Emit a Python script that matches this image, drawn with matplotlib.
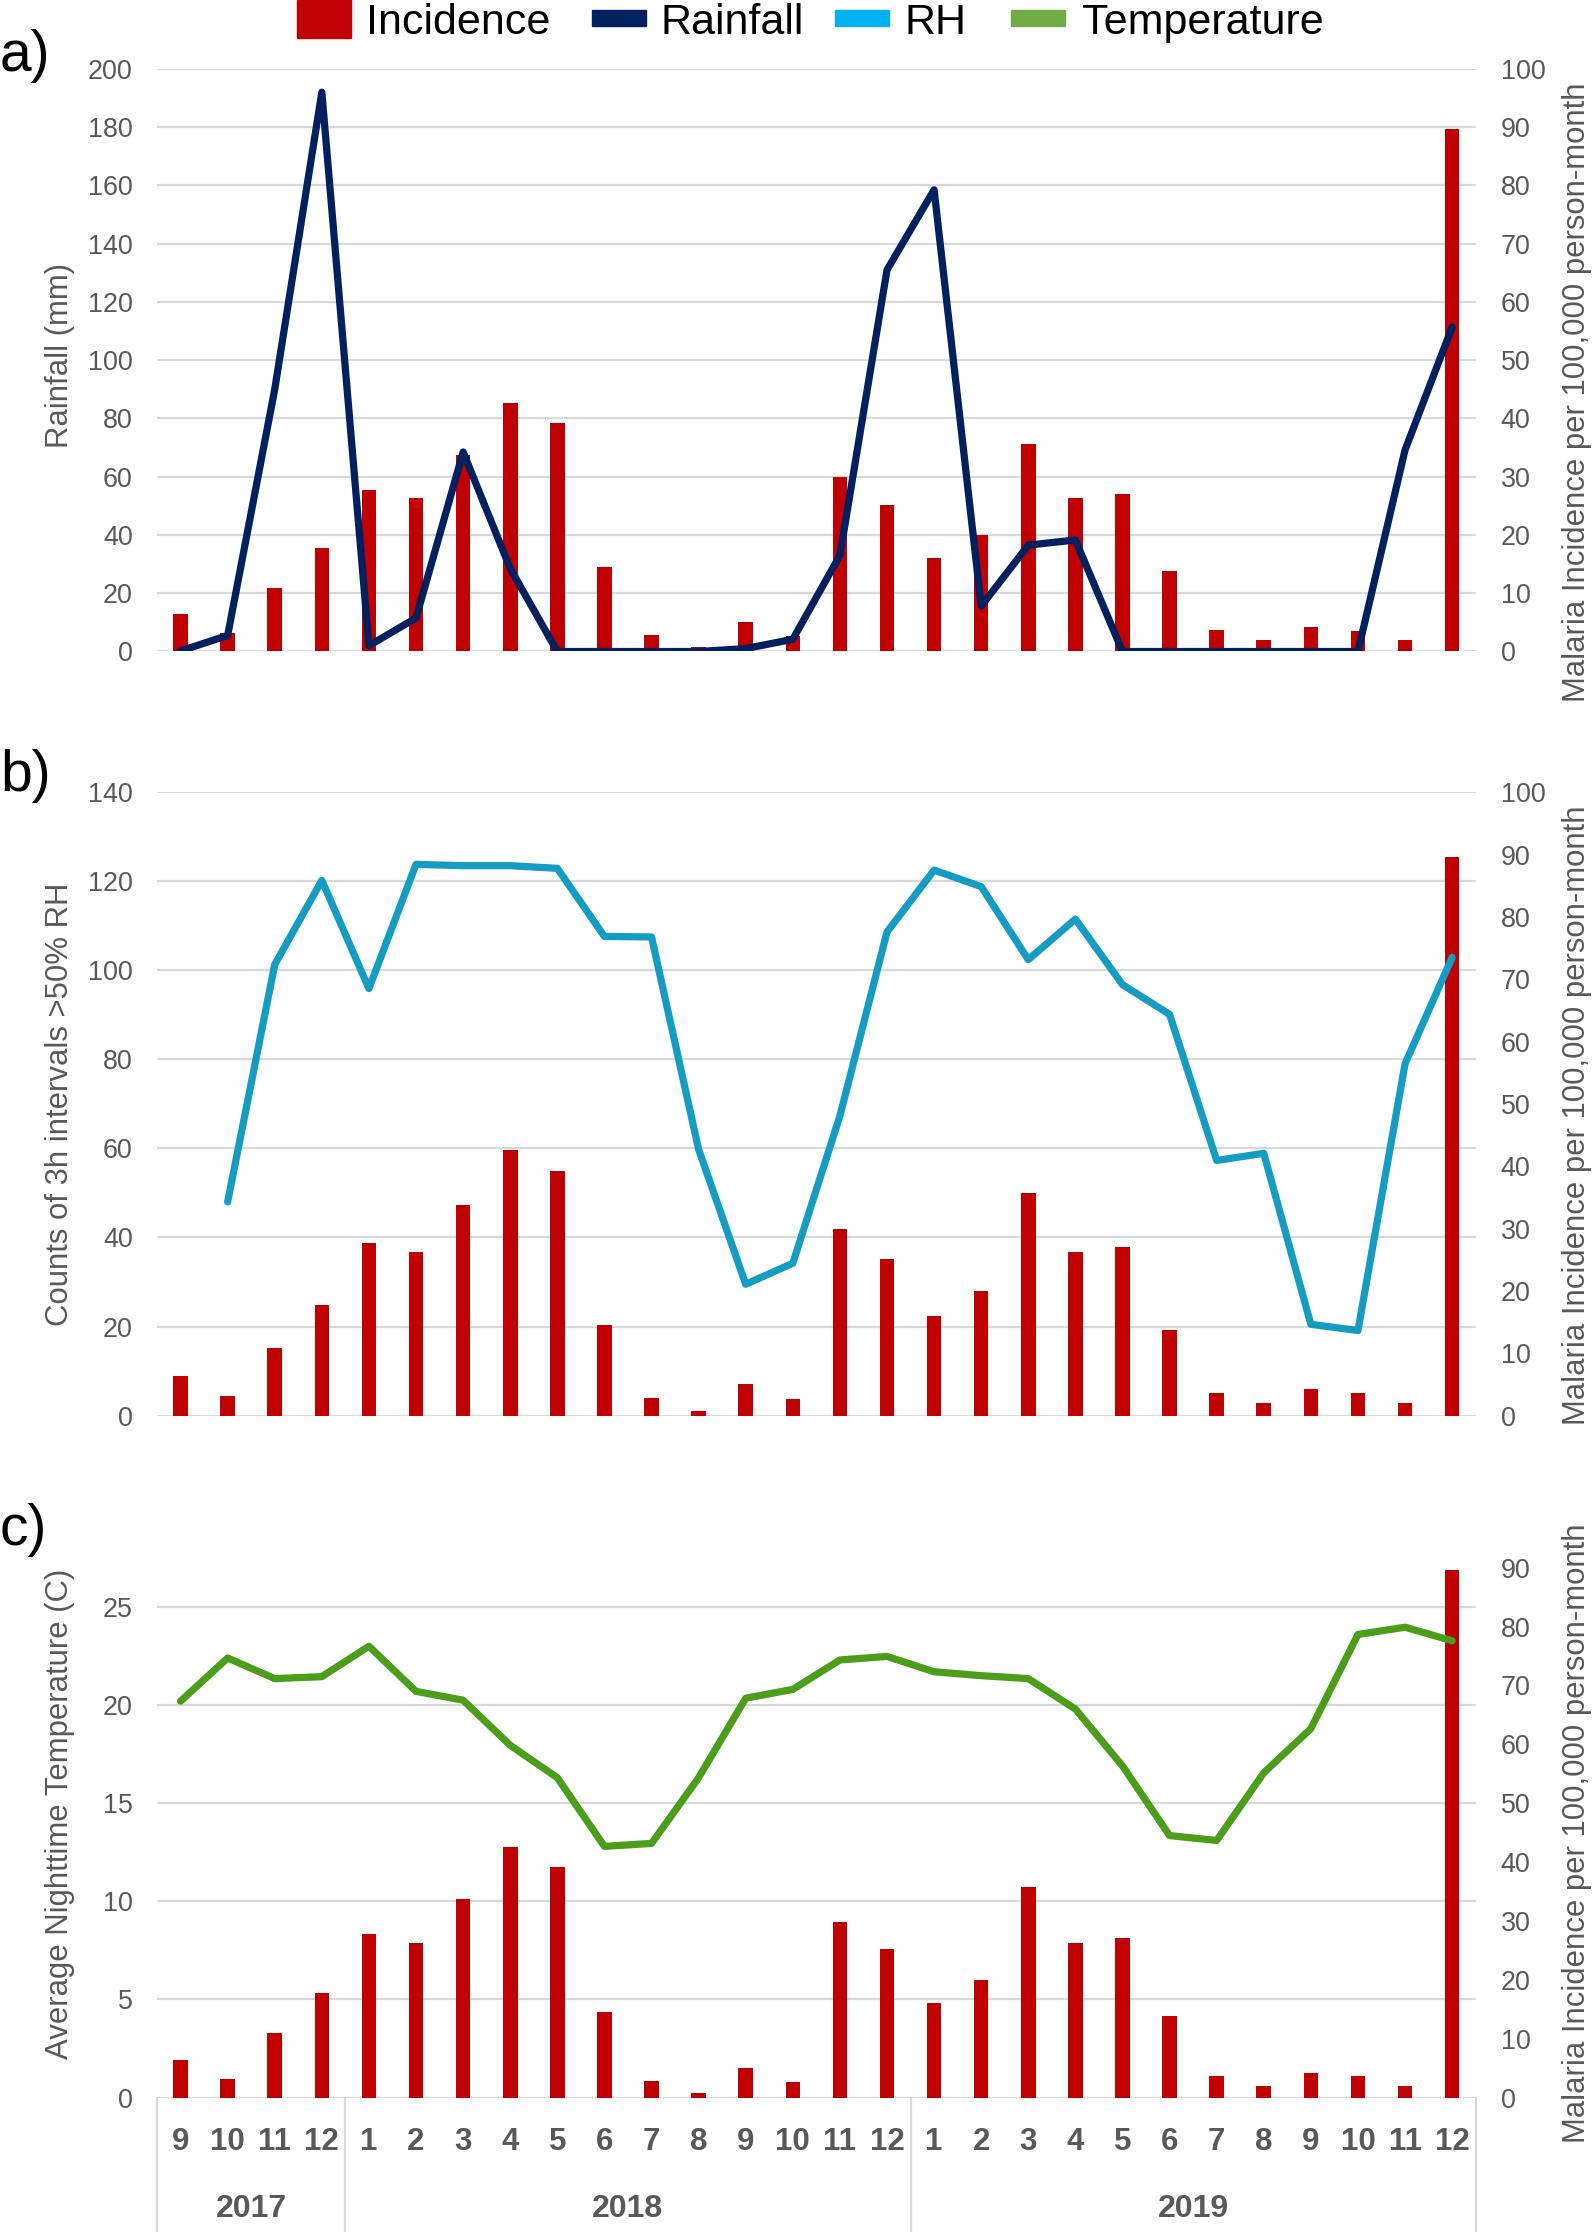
import matplotlib.pyplot as plt
import numpy as np
from matplotlib.patches import Rectangle

W, H = 1593, 2232
DPI = 100

month_labels = ["9", "10", "11", "12",
                "1", "2", "3", "4", "5", "6", "7", "8", "9", "10", "11", "12",
                "1", "2", "3", "4", "5", "6", "7", "8", "9", "10", "11", "12"]
year_labels = ["2017", "2018", "2019"]
year_first = [0, 4, 16]
year_last = [3, 15, 27]

# malaria incidence per 100,000 person-month (right axis, all panels)
incidence = [6.4, 3.1, 10.9, 17.7, 27.7, 26.3, 33.8, 42.6, 39.2, 14.5, 2.8, 0.8,
             5.0, 2.7, 29.9, 25.2, 16.0, 20.0, 35.7, 26.3, 27.1, 13.8, 3.7, 2.0,
             4.2, 3.6, 2.0, 89.6]
rainfall = [0.2, 5.5, 90, 192, 2.0, 11.5, 68.5, 28.5, 0, 0, 0, 0,
            1.0, 4.2, 33, 131, 158.5, 15.6, 36.5, 38.3, 0, 0, 0, 0,
            0, 0, 69.2, 111.4]
rh = [np.nan, 48.0, 101.3, 120.2, 95.9, 123.8, 123.5, 123.5, 122.9, 107.6, 107.5, 59.8,
      29.5, 34.2, 67.3, 108.6, 122.5, 118.8, 102.4, 111.5, 96.8, 90.1, 57.3, 58.9,
      20.5, 19.1, 79.0, 102.9]
temperature = [20.2, 22.4, 21.35, 21.45, 23.0, 20.7, 20.25, 17.95, 16.3, 12.8, 12.95, 16.3,
               20.35, 20.8, 22.3, 22.48, 21.7, 21.5, 21.35, 19.8, 16.9, 13.35, 13.1, 16.55,
               18.8, 23.6, 23.97, 23.28]

GREY = "#595959"
GRID = "#D9D9D9"
BAR = "#C00000"
RAIN = "#002060"
RH_LINE = "#149CC3"
TEMP_LINE = "#4A9E1A"

plt.rcParams["font.family"] = ["Liberation Sans", "DejaVu Sans"]

fig = plt.figure(figsize=(W / DPI, H / DPI), dpi=DPI)


def px_axes(left, top, right, bottom):
    return fig.add_axes([left / W, 1 - bottom / H, (right - left) / W, (bottom - top) / H])


def make_panel(top, bottom, values, color, lmax, lticks, rmax, rticks):
    ax = px_axes(157, top, 1475.7, bottom)
    ax2 = ax.twinx()
    x = np.arange(len(incidence))
    ax.set_xlim(-0.5, len(incidence) - 0.5)
    ax.set_ylim(0, rmax)
    for v in lticks:
        ax.axhline(v * rmax / lmax, color=GRID, lw=1.6, zorder=0)
    ax.bar(x, incidence, width=0.31, color=BAR, zorder=2)
    ax.yaxis.tick_right()
    ax.set_yticks(rticks)
    ax.tick_params(axis="y", length=0, pad=18, labelsize=19.4, labelcolor=GREY)
    ax.set_xticks([])

    ax2.set_ylim(0, lmax)
    ax2.plot(x, values, color=color, lw=5.2, solid_capstyle="round",
             solid_joinstyle="round", zorder=3)
    ax2.yaxis.tick_left()
    ax2.set_yticks(lticks)
    ax2.tick_params(axis="y", length=0, pad=17.5, labelsize=19.4, labelcolor=GREY)
    ax2.set_xticks([])
    for a in (ax, ax2):
        for s in a.spines.values():
            s.set_visible(False)
    return ax, ax2


ax_a, _ = make_panel(68.9, 651.5, rainfall, RAIN, 200, range(0, 201, 20), 100, range(0, 101, 10))
ax_b, _ = make_panel(792.2, 1415.6, rh, RH_LINE, 140, range(0, 141, 20), 100, range(0, 101, 10))
ax_c, _ = make_panel(1508.9, 2097.5, temperature, TEMP_LINE, 30, range(0, 26, 5), 100, range(0, 91, 10))

# multi-level category axis under panel c
trans = ax_c.get_xaxis_transform()
axh = 2097.5 - 1508.9
for i, lab in enumerate(month_labels):
    ax_c.text(i, -44.5 / axh, lab, transform=trans, ha="center", va="center",
              fontsize=22.5, fontweight="bold", color=GREY)
for lab, a, b in zip(year_labels, year_first, year_last):
    ax_c.text((a + b) / 2, -111.5 / axh, lab, transform=trans, ha="center", va="center",
              fontsize=23, fontweight="bold", color=GREY)
for xs in [-0.5] + [b + 0.5 for b in year_last]:
    ax_c.plot([xs, xs], [0, -(H - 2097.5) / axh], transform=trans, color=GRID,
              lw=1.6, clip_on=False)

# axis titles
left_titles = [("Rainfall (mm)", 356), ("Counts of 3h intervals >50% RH", 1104),
               ("Average Nighttime Temperature (C)", 1814)]
for txt, yc in left_titles:
    fig.text(60 / W, 1 - yc / H, txt, rotation=90, ha="center", va="center",
             fontsize=22.4, color=GREY)
for yc in [392, 1115, 1833]:
    fig.text(1577 / W, 1 - yc / H, "Malaria Incidence per 100,000 person-month",
             rotation=90, ha="center", va="center", fontsize=22.4, color=GREY)

# panel letters
for lab, yb in [("a)", 71), ("b)", 791), ("c)", 1545)]:
    fig.text(0, 1 - yb / H, lab, ha="left", va="baseline", fontsize=41, color="black")

# legend on top
legend_items = [("Incidence", BAR, 297, 0, 38, 366),
                ("Rainfall", RAIN, 592, 10, 26, 660),
                ("RH", "#00B0F0", 835, 10, 26, 904),
                ("Temperature", "#70AD47", 1011, 10, 26, 1082)]
for lab, col, x0, y0, y1, xt in legend_items:
    fig.add_artist(Rectangle((x0 / W, 1 - y1 / H), 54 / W, (y1 - y0) / H,
                             transform=fig.transFigure, color=col))
    fig.text(xt / W, 1 - 34 / H, lab, ha="left", va="baseline", fontsize=31, color="black")

fig.savefig("out.png", dpi=DPI)
